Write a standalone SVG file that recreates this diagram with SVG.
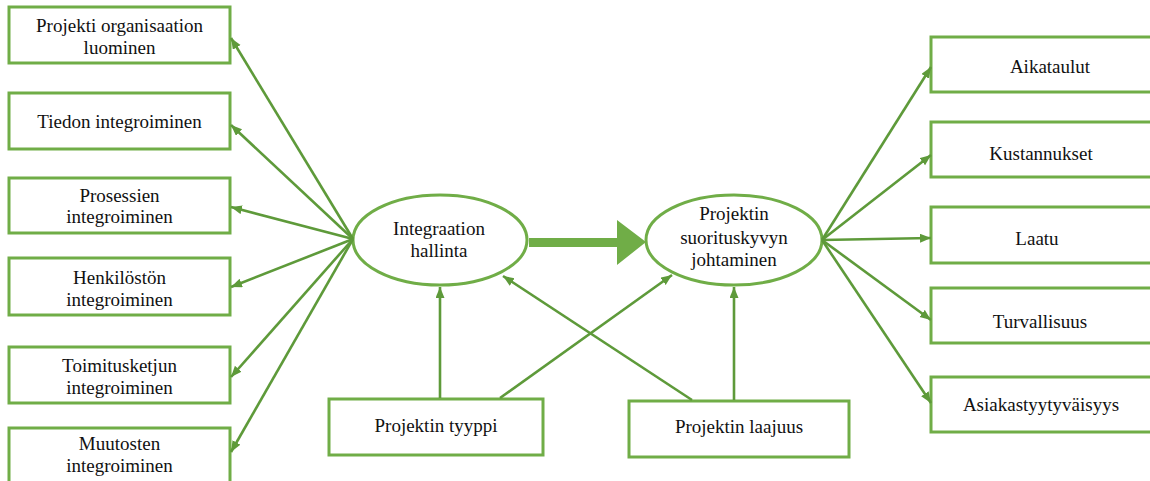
<svg xmlns="http://www.w3.org/2000/svg" width="1150" height="481" viewBox="0 0 1150 481" font-family="Liberation Serif, Times New Roman, serif" font-size="19">
  <style>
    .box { fill: #ffffff; stroke: #70AD47; stroke-width: 3; }
    .oval { fill: #ffffff; stroke: #70AD47; stroke-width: 3; }
    .lbl { font-family: Liberation Serif, serif; font-size: 19px; fill: #111111; text-anchor: middle; }
    .link { stroke: #5E9A3A; stroke-width: 2.6; fill: none; marker-end: url(#head); }
    .big { fill: #70AD47; }
  </style>
  <defs>
    <marker id="head" markerUnits="userSpaceOnUse" markerWidth="12" markerHeight="10" refX="11" refY="4.5" orient="auto">
      <path d="M0,0 L11,4.5 L0,9 Z" fill="#5E9A3A"/>
    </marker>
  </defs>
  <rect width="1150" height="481" fill="#ffffff"/>

  <!-- left column -->
  <g id="n-organisaatio">
    <rect class="box" x="9" y="7" width="221" height="56"/>
    <text class="lbl" x="119.5" y="32" font-family="Liberation Serif">Projekti organisaation</text>
    <text class="lbl" x="119.5" y="54" font-family="Liberation Serif">luominen</text>
  </g>
  <g id="n-tieto">
    <rect class="box" x="9" y="93" width="221" height="56"/>
    <text class="lbl" x="119.5" y="128" font-family="Liberation Serif">Tiedon integroiminen</text>
  </g>
  <g id="n-prosessit">
    <rect class="box" x="9" y="178" width="221" height="55"/>
    <text class="lbl" x="119.5" y="202">Prosessien</text>
    <text class="lbl" x="119.5" y="223">integroiminen</text>
  </g>
  <g id="n-henkilosto">
    <rect class="box" x="9" y="258" width="221" height="57"/>
    <text class="lbl" x="119.5" y="284">Henkilöstön</text>
    <text class="lbl" x="119.5" y="306">integroiminen</text>
  </g>
  <g id="n-toimitusketju">
    <rect class="box" x="9" y="347" width="221" height="56"/>
    <text class="lbl" x="119.5" y="372">Toimitusketjun</text>
    <text class="lbl" x="119.5" y="394">integroiminen</text>
  </g>
  <g id="n-muutokset">
    <rect class="box" x="9" y="428" width="221" height="60"/>
    <text class="lbl" x="119.5" y="450">Muutosten</text>
    <text class="lbl" x="119.5" y="472">integroiminen</text>
  </g>

  <!-- centre -->
  <g id="n-integraatio">
    <ellipse class="oval" cx="440" cy="240" rx="87" ry="45"/>
    <text class="lbl" x="439" y="235">Integraation</text>
    <text class="lbl" x="439" y="257">hallinta</text>
  </g>
  <g id="n-suorituskyky">
    <ellipse class="oval" cx="734" cy="240" rx="88" ry="45"/>
    <text class="lbl" x="734" y="220">Projektin</text>
    <text class="lbl" x="734" y="244">suorituskyvyn</text>
    <text class="lbl" x="734" y="266">johtaminen</text>
  </g>
  <g id="n-tyyppi">
    <rect class="box" x="329" y="399" width="214" height="56"/>
    <text class="lbl" x="436" y="432">Projektin tyyppi</text>
  </g>
  <g id="n-laajuus">
    <rect class="box" x="629" y="401" width="220" height="56"/>
    <text class="lbl" x="739" y="433">Projektin laajuus</text>
  </g>

  <!-- right column -->
  <g id="n-aikataulut">
    <rect class="box" x="931" y="37" width="240" height="55"/>
    <text class="lbl" x="1050" y="73">Aikataulut</text>
  </g>
  <g id="n-kustannukset">
    <rect class="box" x="931" y="122" width="240" height="55"/>
    <text class="lbl" x="1041" y="160">Kustannukset</text>
  </g>
  <g id="n-laatu">
    <rect class="box" x="931" y="207" width="240" height="56"/>
    <text class="lbl" x="1037" y="245">Laatu</text>
  </g>
  <g id="n-turvallisuus">
    <rect class="box" x="931" y="288" width="240" height="55"/>
    <text class="lbl" x="1040" y="328">Turvallisuus</text>
  </g>
  <g id="n-asiakas">
    <rect class="box" x="931" y="377" width="240" height="55"/>
    <text class="lbl" x="1041" y="411">Asiakastyytyväisyys</text>
  </g>

  <!-- connectors -->
  <g id="connectors">
    <line class="link" x1="353" y1="239" x2="231" y2="38"/>
    <line class="link" x1="353" y1="239" x2="231" y2="125"/>
    <line class="link" x1="353" y1="239" x2="231" y2="207"/>
    <line class="link" x1="353" y1="239" x2="231" y2="287"/>
    <line class="link" x1="353" y1="239" x2="231" y2="377"/>
    <line class="link" x1="353" y1="239" x2="231" y2="452"/>

    <line class="link" x1="822" y1="240" x2="931" y2="67"/>
    <line class="link" x1="822" y1="240" x2="931" y2="155"/>
    <line class="link" x1="822" y1="240" x2="931" y2="238"/>
    <line class="link" x1="822" y1="240" x2="931" y2="320"/>
    <line class="link" x1="822" y1="240" x2="931" y2="403"/>

    <line class="link" x1="440" y1="398" x2="440" y2="287"/>
    <line class="link" x1="500" y1="398" x2="672" y2="275"/>
    <line class="link" x1="734" y1="400" x2="734" y2="287"/>
    <line class="link" x1="692" y1="400" x2="503" y2="276"/>

    <polygon class="big" points="529,238 617,238 617,220 646,242 617,265 617,247 529,247"/>
  </g>
</svg>
